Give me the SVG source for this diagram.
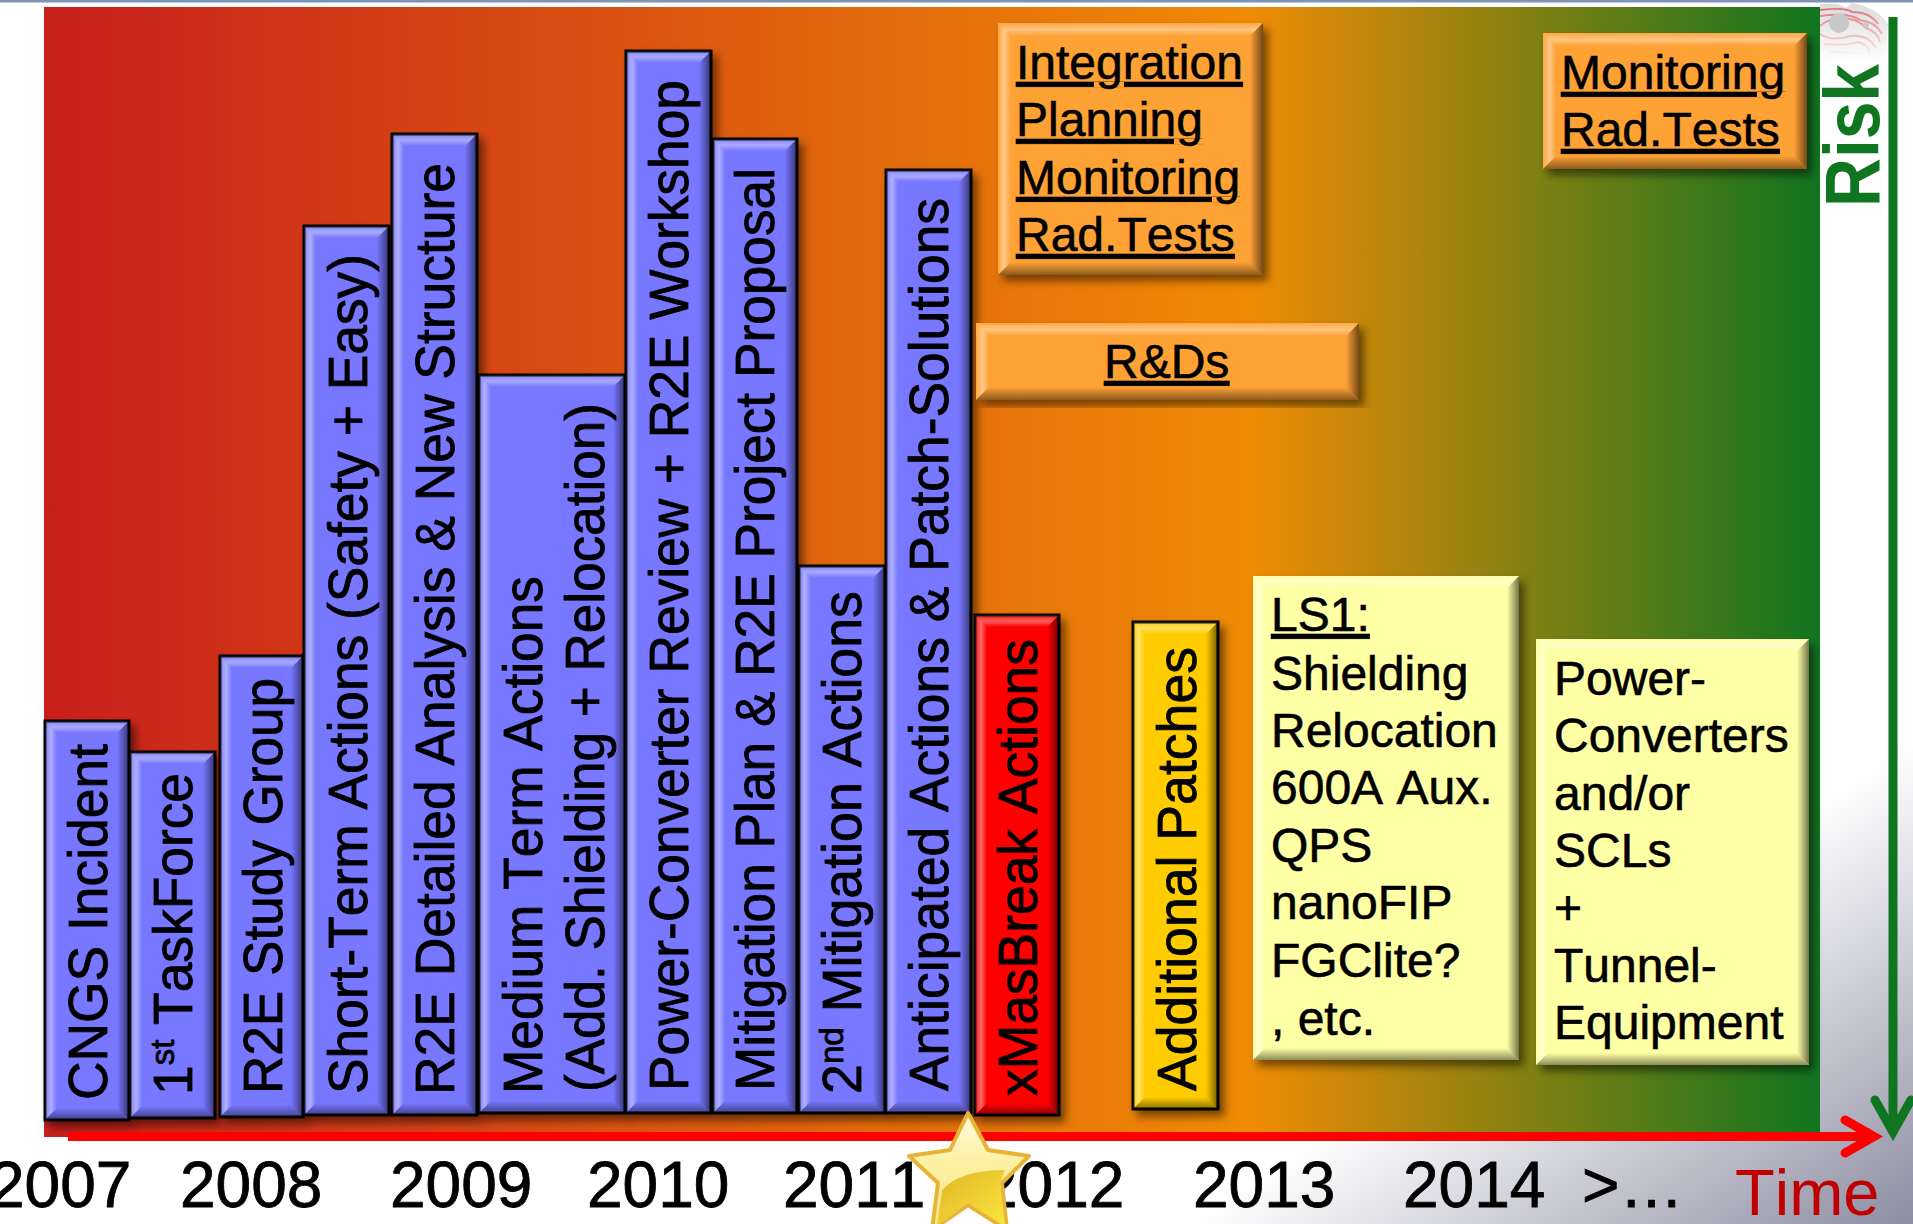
<svg xmlns="http://www.w3.org/2000/svg" width="1913" height="1224" viewBox="0 0 1913 1224">
<defs>
<linearGradient id="bgG" gradientUnits="userSpaceOnUse" x1="44" y1="0" x2="1820" y2="0"><stop offset="0" stop-color="#c81f1c"/><stop offset=".68" stop-color="#ef8b05"/><stop offset="1" stop-color="#107520"/></linearGradient>
<linearGradient id="cornerG" gradientUnits="userSpaceOnUse" x1="1913" y1="740" x2="2136" y2="1074"><stop offset="0" stop-color="#fff"/><stop offset="1" stop-color="#8d8da3"/></linearGradient>
<linearGradient id="domeG" gradientUnits="userSpaceOnUse" x1="0" y1="5" x2="0" y2="62"><stop offset="0" stop-color="#dcdcdc"/><stop offset=".5" stop-color="#eeeeee"/><stop offset="1" stop-color="#fff"/></linearGradient>
<linearGradient id="contG" gradientUnits="userSpaceOnUse" x1="0" y1="8" x2="0" y2="58"><stop offset="0" stop-color="#e07078"/><stop offset=".6" stop-color="#f2c4c6"/><stop offset="1" stop-color="#fff"/></linearGradient>
<linearGradient id="gl"><stop offset="0" stop-color="#fff" stop-opacity=".05"/><stop offset=".5" stop-color="#fff" stop-opacity=".42"/><stop offset="1" stop-color="#fff" stop-opacity="0"/></linearGradient>
<linearGradient id="gr"><stop offset="0" stop-color="#000" stop-opacity="0"/><stop offset="1" stop-color="#000" stop-opacity=".55"/></linearGradient>
<linearGradient id="gt" x1="0" y1="0" x2="0" y2="1"><stop offset="0" stop-color="#fff" stop-opacity=".05"/><stop offset=".5" stop-color="#fff" stop-opacity=".38"/><stop offset="1" stop-color="#fff" stop-opacity="0"/></linearGradient>
<linearGradient id="gb" x1="0" y1="0" x2="0" y2="1"><stop offset="0" stop-color="#000" stop-opacity="0"/><stop offset="1" stop-color="#000" stop-opacity=".45"/></linearGradient>
<linearGradient id="starG" x1="0" y1="0" x2="0" y2="1"><stop offset="0" stop-color="#fffbe0"/><stop offset=".45" stop-color="#fdf0a0"/><stop offset="1" stop-color="#fbe88a"/></linearGradient>
<linearGradient id="glossG" x1="0" y1="0" x2="1" y2="1"><stop offset="0" stop-color="#e0b428"/><stop offset="1" stop-color="#fbe63c"/></linearGradient>
<filter id="sh" x="-20%" y="-10%" width="140%" height="120%"><feDropShadow dx="5" dy="6" stdDeviation="4" flood-color="#000" flood-opacity=".5"/></filter>
</defs>
<style>
text{font-family:"Liberation Sans",Arial,sans-serif;fill:#000;font-kerning:none}
.b{font-size:55px;stroke:#000;stroke-width:.8}
.t{font-size:48px;stroke:#000;stroke-width:.6}
.u{text-decoration:underline}
.y{font-size:64px;stroke:#000;stroke-width:.8}
.blue{fill:#7777ff;stroke:#000;stroke-width:3}
.red{fill:#ff0000;stroke:#000;stroke-width:3}
.gold{fill:#ffcc00;stroke:#000;stroke-width:3}
.org{fill:#ffa235}
.yel{fill:#ffffa5}
.bl{fill:url(#gl)}.br{fill:url(#gr)}.bt{fill:url(#gt)}.bb{fill:url(#gb)}
</style>
<rect width="1913" height="1224" fill="url(#cornerG)"/>
<g id="logo" fill="none" stroke="url(#contG)" stroke-width="2">
<path d="M1820 4H1838L1846 8L1852 3Q1878 8 1888 24L1885 62H1820Z" fill="url(#domeG)" stroke="none"/>
<path d="M1820 10Q1845 7 1852 12Q1870 12 1878 24"/>
<path d="M1820 16Q1850 12 1860 20Q1876 22 1882 34"/>
<path d="M1820 26Q1826 20 1840 18Q1858 18 1866 28Q1878 32 1880 42"/>
<path d="M1820 34Q1832 42 1850 36Q1868 34 1876 48"/>
<path d="M1824 44Q1848 46 1858 42Q1868 44 1870 54"/>
<path d="M1830 52Q1848 52 1862 54"/>
<ellipse cx="1839" cy="23" rx="10" ry="10" fill="#c8c8c8" stroke="none"/>
<ellipse cx="1866" cy="25" rx="3" ry="3" fill="#c8c8c8" stroke="none"/>
</g>
<rect width="1913" height="2.500" fill="#7f94b5"/>
<rect id="background" x="44" y="7" width="1776" height="1130" fill="url(#bgG)"/>

<g id="n-cngs"><rect class="blue" filter="url(#sh)" x="45" y="721" width="84" height="399"/><polygon class="bt" points="45,721 129,721 117,733 57,733"/><polygon class="bl" points="45,721 57,733 57,1108 45,1120"/><polygon class="br" points="129,721 117,733 117,1108 129,1120"/><polygon class="bb" points="45,1120 57,1108 117,1108 129,1120"/><text class="b" transform="translate(107,1100) rotate(-90)" textLength="356" lengthAdjust="spacingAndGlyphs">CNGS Incident</text></g>
<g id="n-taskforce"><rect class="blue" filter="url(#sh)" x="130" y="752" width="85" height="366"/><polygon class="bt" points="130,752 215,752 203,764 142,764"/><polygon class="bl" points="130,752 142,764 142,1106 130,1118"/><polygon class="br" points="215,752 203,764 203,1106 215,1118"/><polygon class="bb" points="130,1118 142,1106 203,1106 215,1118"/><text class="b" transform="translate(192,1095) rotate(-90)" textLength="322" lengthAdjust="spacingAndGlyphs">1<tspan font-size="34" dy="-18">st</tspan><tspan dy="18"> TaskForce</tspan></text></g>
<g id="n-study"><rect class="blue" filter="url(#sh)" x="220" y="656" width="83" height="461"/><polygon class="bt" points="220,656 303,656 291,668 232,668"/><polygon class="bl" points="220,656 232,668 232,1105 220,1117"/><polygon class="br" points="303,656 291,668 291,1105 303,1117"/><polygon class="bb" points="220,1117 232,1105 291,1105 303,1117"/><text class="b" transform="translate(282,1094) rotate(-90)" textLength="416" lengthAdjust="spacingAndGlyphs">R2E Study Group</text></g>
<g id="n-short"><rect class="blue" filter="url(#sh)" x="304" y="226" width="85" height="889"/><polygon class="bt" points="304,226 389,226 377,238 316,238"/><polygon class="bl" points="304,226 316,238 316,1103 304,1115"/><polygon class="br" points="389,226 377,238 377,1103 389,1115"/><polygon class="bb" points="304,1115 316,1103 377,1103 389,1115"/><text class="b" transform="translate(367,1094) rotate(-90)" textLength="840" lengthAdjust="spacingAndGlyphs">Short-Term Actions (Safety + Easy)</text></g>
<g id="n-detailed"><rect class="blue" filter="url(#sh)" x="392" y="134" width="85" height="981"/><polygon class="bt" points="392,134 477,134 465,146 404,146"/><polygon class="bl" points="392,134 404,146 404,1103 392,1115"/><polygon class="br" points="477,134 465,146 465,1103 477,1115"/><polygon class="bb" points="392,1115 404,1103 465,1103 477,1115"/><text class="b" transform="translate(454,1095) rotate(-90)" textLength="932" lengthAdjust="spacingAndGlyphs">R2E Detailed Analysis &amp; New Structure</text></g>
<g id="n-medium"><rect class="blue" filter="url(#sh)" x="479" y="375" width="146" height="738"/><polygon class="bt" points="479,375 625,375 613,387 491,387"/><polygon class="bl" points="479,375 491,387 491,1101 479,1113"/><polygon class="br" points="625,375 613,387 613,1101 625,1113"/><polygon class="bb" points="479,1113 491,1101 613,1101 625,1113"/><text class="b" transform="translate(542,1094) rotate(-90)" textLength="518" lengthAdjust="spacingAndGlyphs">Medium Term Actions</text><text class="b" transform="translate(604,1092) rotate(-90)" textLength="689" lengthAdjust="spacingAndGlyphs">(Add. Shielding + Relocation)</text></g>
<g id="n-review"><rect class="blue" filter="url(#sh)" x="626" y="51" width="85" height="1062"/><polygon class="bt" points="626,51 711,51 699,63 638,63"/><polygon class="bl" points="626,51 638,63 638,1101 626,1113"/><polygon class="br" points="711,51 699,63 699,1101 711,1113"/><polygon class="bb" points="626,1113 638,1101 699,1101 711,1113"/><text class="b" transform="translate(688,1091) rotate(-90)" textLength="1011" lengthAdjust="spacingAndGlyphs">Power-Converter Review + R2E Workshop</text></g>
<g id="n-mitigation"><rect class="blue" filter="url(#sh)" x="713" y="139" width="84" height="974"/><polygon class="bt" points="713,139 797,139 785,151 725,151"/><polygon class="bl" points="713,139 725,151 725,1101 713,1113"/><polygon class="br" points="797,139 785,151 785,1101 797,1113"/><polygon class="bb" points="713,1113 725,1101 785,1101 797,1113"/><text class="b" transform="translate(774,1091) rotate(-90)" textLength="923" lengthAdjust="spacingAndGlyphs">Mitigation Plan &amp; R2E Project Proposal</text></g>
<g id="n-second"><rect class="blue" filter="url(#sh)" x="799" y="566" width="86" height="547"/><polygon class="bt" points="799,566 885,566 873,578 811,578"/><polygon class="bl" points="799,566 811,578 811,1101 799,1113"/><polygon class="br" points="885,566 873,578 873,1101 885,1113"/><polygon class="bb" points="799,1113 811,1101 873,1101 885,1113"/><text class="b" transform="translate(861,1094) rotate(-90)" textLength="503" lengthAdjust="spacingAndGlyphs">2<tspan font-size="34" dy="-18">nd</tspan><tspan dy="18"> Mitigation Actions</tspan></text></g>
<g id="n-anticipated"><rect class="blue" filter="url(#sh)" x="886" y="170" width="85" height="943"/><polygon class="bt" points="886,170 971,170 959,182 898,182"/><polygon class="bl" points="886,170 898,182 898,1101 886,1113"/><polygon class="br" points="971,170 959,182 959,1101 971,1113"/><polygon class="bb" points="886,1113 898,1101 959,1101 971,1113"/><text class="b" transform="translate(948,1091) rotate(-90)" textLength="893" lengthAdjust="spacingAndGlyphs">Anticipated Actions &amp; Patch-Solutions</text></g>
<g id="n-xmas"><rect class="red" filter="url(#sh)" x="975" y="615" width="84" height="500"/><polygon class="bt" points="975,615 1059,615 1047,627 987,627"/><polygon class="bl" points="975,615 987,627 987,1103 975,1115"/><polygon class="br" points="1059,615 1047,627 1047,1103 1059,1115"/><polygon class="bb" points="975,1115 987,1103 1047,1103 1059,1115"/><text class="b" transform="translate(1037,1096) rotate(-90)" textLength="457" lengthAdjust="spacingAndGlyphs">xMasBreak Actions</text></g>
<g id="n-patches"><rect class="gold" filter="url(#sh)" x="1133" y="622" width="85" height="487"/><polygon class="bt" points="1133,622 1218,622 1206,634 1145,634"/><polygon class="bl" points="1133,622 1145,634 1145,1097 1133,1109"/><polygon class="br" points="1218,622 1206,634 1206,1097 1218,1109"/><polygon class="bb" points="1133,1109 1145,1097 1206,1097 1218,1109"/><text class="b" transform="translate(1196,1091) rotate(-90)" textLength="444" lengthAdjust="spacingAndGlyphs">Additional Patches</text></g>

<g id="n-integration"><rect class="org" filter="url(#sh)" x="998" y="23" width="265" height="252"/><polygon class="bt" points="998,23 1263,23 1250,36 1011,36"/><polygon class="bl" points="998,23 1011,36 1011,262 998,275"/><polygon class="br" points="1263,23 1250,36 1250,262 1263,275"/><polygon class="bb" points="998,275 1011,262 1250,262 1263,275"/><text class="t u" x="1016" y="79">Integration</text><text class="t u" x="1016" y="136">Planning</text><text class="t u" x="1016" y="194">Monitoring</text><text class="t u" x="1016" y="251">Rad.Tests</text></g>
<g id="n-rnd"><rect class="org" filter="url(#sh)" x="976" y="323" width="383" height="77"/><polygon class="bt" points="976,323 1359,323 1346,336 989,336"/><polygon class="bl" points="976,323 989,336 989,387 976,400"/><polygon class="br" points="1359,323 1346,336 1346,387 1359,400"/><polygon class="bb" points="976,400 989,387 1346,387 1359,400"/><text class="t u" x="1104" y="378">R&amp;Ds</text></g>
<g id="n-monitoring"><rect class="org" filter="url(#sh)" x="1543" y="33" width="264" height="136"/><polygon class="bt" points="1543,33 1807,33 1794,46 1556,46"/><polygon class="bl" points="1543,33 1556,46 1556,156 1543,169"/><polygon class="br" points="1807,33 1794,46 1794,156 1807,169"/><polygon class="bb" points="1543,169 1556,156 1794,156 1807,169"/><text class="t u" x="1561" y="89">Monitoring</text><text class="t u" x="1561" y="146">Rad.Tests</text></g>
<g id="n-ls1"><rect class="yel" filter="url(#sh)" x="1253" y="576" width="266" height="484"/><polygon class="bt" points="1253,576 1519,576 1507,588 1265,588"/><polygon class="bl" points="1253,576 1265,588 1265,1048 1253,1060"/><polygon class="br" points="1519,576 1507,588 1507,1048 1519,1060"/><polygon class="bb" points="1253,1060 1265,1048 1507,1048 1519,1060"/><text class="t u" x="1271" y="631">LS1:</text><text class="t" x="1271" y="690">Shielding</text><text class="t" x="1271" y="747">Relocation</text><text class="t" x="1271" y="804">600A Aux.</text><text class="t" x="1271" y="862">QPS</text><text class="t" x="1271" y="919">nanoFIP</text><text class="t" x="1271" y="977">FGClite?</text><text class="t" x="1271" y="1035">, etc.</text></g>
<g id="n-converters"><rect class="yel" filter="url(#sh)" x="1536" y="639" width="273" height="426"/><polygon class="bt" points="1536,639 1809,639 1797,651 1548,651"/><polygon class="bl" points="1536,639 1548,651 1548,1053 1536,1065"/><polygon class="br" points="1809,639 1797,651 1797,1053 1809,1065"/><polygon class="bb" points="1536,1065 1548,1053 1797,1053 1809,1065"/><text class="t" x="1554" y="695">Power-</text><text class="t" x="1554" y="752">Converters</text><text class="t" x="1554" y="810">and/or</text><text class="t" x="1554" y="867">SCLs</text><text class="t" x="1554" y="924">+</text><text class="t" x="1554" y="982">Tunnel-</text><text class="t" x="1554" y="1039">Equipment</text></g>

<g id="labels">
<text class="y" x="-11" y="1207">2007</text><text class="y" x="180" y="1207">2008</text><text class="y" x="390" y="1207">2009</text><text class="y" x="587" y="1207">2010</text><text class="y" x="783" y="1207">2011</text><text class="y" x="982" y="1207">2012</text><text class="y" x="1193" y="1207">2013</text><text class="y" x="1403" y="1207">2014</text><text class="y" x="1582" y="1207">&gt;…</text>
<text x="1735" y="1215" font-size="65" style="fill:#c00000">Time</text>
<text transform="translate(1879,207) rotate(-90)" font-size="78" font-weight="700" textLength="143" lengthAdjust="spacingAndGlyphs" style="fill:#107520">Risk</text>
</g>
<g id="connectors" fill="none">
<path d="M1893 17V1128" stroke="#107520" stroke-width="9"/>
<path d="M1875 1100L1893 1132L1911 1100" stroke="#107520" stroke-width="9" stroke-linecap="round"/>
<path d="M68 1136.500H1870" stroke="#ff0000" stroke-width="9"/>
<path d="M1845 1120L1874 1136.500L1845 1153" stroke="#ff0000" stroke-width="9" stroke-linecap="round"/>
</g>
<g id="star">
<path d="M968 1113L988 1150L1029 1156L1002 1183L1007 1230L968 1205L932 1230L938 1183L909 1156L950 1150Z" fill="url(#starG)" stroke="#e8b438" stroke-width="4" stroke-linejoin="round"/>
<path d="M1005 1170Q960 1170 942 1190L937 1226L968 1203L1005 1226L1000 1183Z" fill="url(#glossG)"/>
</g>
</svg>
